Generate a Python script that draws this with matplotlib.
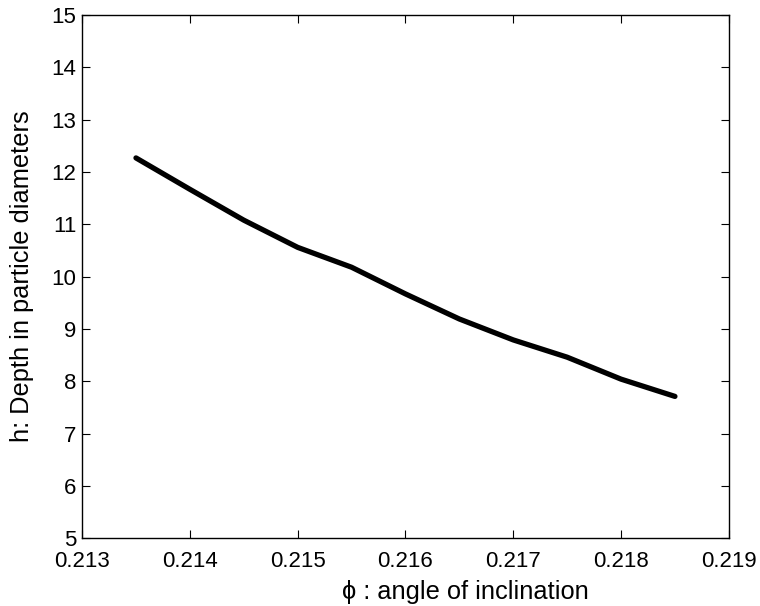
import matplotlib
matplotlib.use("Agg")
import matplotlib.pyplot as plt

# angle of inclination vs depth
phi = [0.2135, 0.2140, 0.2145, 0.2150, 0.2155, 0.2160, 0.2165, 0.2170, 0.2175, 0.2180, 0.2185]
depth = [12.27, 11.67, 11.08, 10.56, 10.18, 9.67, 9.19, 8.79, 8.46, 8.04, 7.71]

x_ticks = [0.213, 0.214, 0.215, 0.216, 0.217, 0.218, 0.219]
y_ticks = list(range(5, 16))

plt.rcParams['font.family'] = ['Liberation Sans', 'DejaVu Sans']

fig = plt.figure(figsize=(7.6, 6.06), dpi=100)
ax = fig.add_axes([0.108, 0.112, 0.851, 0.863])

ax.plot(phi, depth, color='black', linewidth=3.8, solid_capstyle='round')

ax.set_xlim(0.213, 0.219)
ax.set_ylim(5, 15)
ax.set_xticks(x_ticks)
ax.set_xticklabels(["%.3f" % t for t in x_ticks])
ax.set_yticks(y_ticks)
ax.tick_params(direction='in', top=True, right=True, labelsize=16, length=6, width=0.8)
ax.tick_params(axis='x', pad=9)
ax.tick_params(axis='y', pad=4)
for s in ax.spines.values():
    s.set_linewidth(1.0)

ax.set_xlabel('\u03d5 : angle of inclination', fontsize=18.3, labelpad=6)
ax.xaxis.label.set_x(0.592)  # label sits right of centre in the original
ax.set_ylabel('h: Depth in particle diameters', fontsize=18.3, labelpad=13)

fig.savefig('out.png', dpi=100)
